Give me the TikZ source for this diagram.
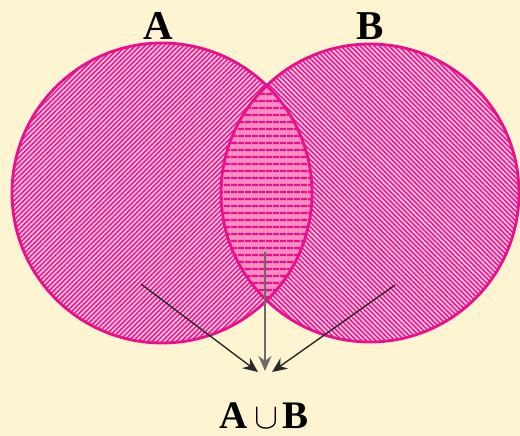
\documentclass[tikz,border=0pt]{standalone}
\usepackage{fontspec}
\usepackage{graphicx}
\setmainfont{Liberation Serif}
\usetikzlibrary{patterns.meta,arrows.meta}
\definecolor{bg}{HTML}{FDF5D2}
\definecolor{mag}{HTML}{EC0F8C}
\definecolor{lpink}{HTML}{FAC0DB}
\definecolor{mpink}{HTML}{F58FC4}
\definecolor{arrcol}{HTML}{2A2A2A}
\tikzset{
  setlabel/.style={anchor=base, inner sep=0pt, font=\fontsize{41}{46}\selectfont\bfseries},
  connector/.style={draw=arrcol, line width=1.4pt, -{Stealth[length=15pt,width=13pt]}},
  outline/.style={draw=mag, line width=2.8pt},
}
\begin{document}
\begin{tikzpicture}[x=1pt,y=-1pt]
\useasboundingbox (0,0) rectangle (520,436);
\fill[bg] (0,0) rectangle (520,436);
\coordinate (ca) at (162,193);
\coordinate (cb) at (370,193);
% circle A
\fill[lpink] (ca) circle[radius=150pt];
\fill[pattern={Lines[angle=45,distance=3.4pt,line width=1.4pt]}, pattern color=mag] (ca) circle[radius=150pt];
% circle B
\fill[lpink] (cb) circle[radius=149pt];
\fill[pattern={Lines[angle=-45,distance=3.4pt,line width=1.4pt]}, pattern color=mag] (cb) circle[radius=149pt];
% lens
\begin{scope}
  \clip (ca) circle[radius=150pt];
  \fill[mpink] (cb) circle[radius=149pt];
  \fill[pattern={Lines[angle=0,distance=6.5pt,line width=2.6pt]}, pattern color=mag] (cb) circle[radius=149pt];
\end{scope}
\draw[outline] (ca) circle[radius=150pt];
\draw[outline] (cb) circle[radius=149pt];
% labels
\node[setlabel] (la) at (158,40) {A};
\node[setlabel] (lb) at (370,40) {B};
\node[setlabel, font=\fontsize{39}{44}\selectfont\bfseries] (lu) at (264,428) {A\hspace{6pt}\resizebox{24pt}{!}{$\cup$}\hspace{4pt}B};
% arrows
\coordinate (s1) at (141,284);
\coordinate (t1) at (258,372);
\coordinate (s2) at (265,252);
\coordinate (t2) at (265,371);
\coordinate (s3) at (395,285);
\coordinate (t3) at (272,372);
\draw[connector] (s1) -- (t1);
\draw[connector, draw=arrcol!70, line width=2pt] (s2) -- (t2);
\draw[connector] (s3) -- (t3);
\end{tikzpicture}
\end{document}
